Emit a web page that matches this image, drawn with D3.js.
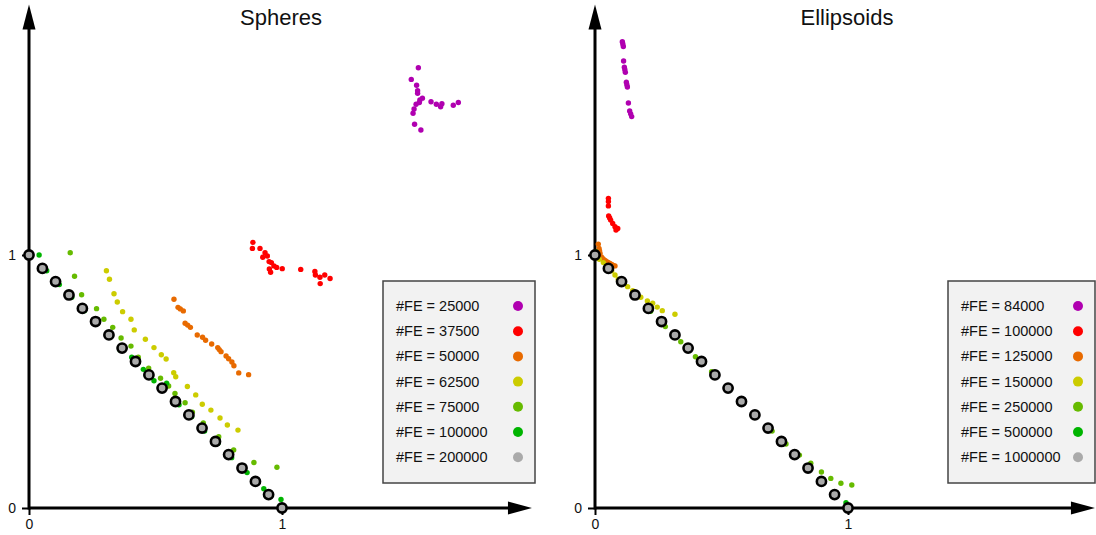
<!DOCTYPE html>
<html>
<head>
<meta charset="utf-8">
<script src="https://cdn.jsdelivr.net/npm/d3@7"></script>
<style>
  body { margin: 0; background: #fff; }
  text { font-family: "Liberation Sans", Arial, sans-serif; fill: #111; }
</style>
</head>
<body>
<div id="chart"></div>
<script>

var width = 1096,
    height = 535;

// series colours (shared by both panels, in legend order)
var colors = ["#b000b0", "#ff0000", "#e86a00", "#cccc00", "#66bb00", "#00b400", "#aaaaaa"];

// Spheres
var sphereLabels = ["25000", "37500", "50000", "62500", "75000", "100000", "200000"];

var sphere25000 = [[1.539,1.740],[1.511,1.694],[1.532,1.671],[1.536,1.649],[1.536,1.639],[1.555,1.620],
  [1.545,1.613],[1.543,1.603],[1.530,1.596],[1.522,1.577],[1.518,1.560],[1.524,1.517],[1.549,1.494],
  [1.589,1.606],[1.610,1.596],[1.627,1.586],[1.632,1.598],[1.677,1.592],[1.697,1.603]];
var sphere37500 = [[0.885,1.050],[0.883,1.026],[0.913,1.026],[0.933,1.009],[0.942,0.996],[0.924,0.991],
  [0.949,0.974],[0.958,0.970],[0.968,0.957],[0.979,0.951],[0.950,0.945],[0.955,0.932],[1.001,0.946],
  [1.074,0.943],[1.130,0.935],[1.132,0.921],[1.150,0.912],[1.169,0.921],[1.190,0.907],[1.151,0.887]];
var sphere50000 = [[0.573,0.825],[0.589,0.793],[0.598,0.787],[0.610,0.779],[0.617,0.730],[0.627,0.723],
  [0.638,0.714],[0.665,0.684],[0.686,0.675],[0.698,0.663],[0.722,0.648],[0.746,0.634],[0.752,0.626],
  [0.759,0.618],[0.779,0.601],[0.789,0.590],[0.802,0.577],[0.810,0.562],[0.829,0.534],[0.868,0.527]];
var sphere62500 = [[0.306,0.938],[0.318,0.904],[0.336,0.847],[0.349,0.814],[0.370,0.776],[0.403,0.746],
  [0.416,0.704],[0.460,0.667],[0.494,0.634],[0.523,0.606],[0.542,0.589],[0.572,0.535],[0.580,0.519],
  [0.626,0.480],[0.659,0.447],[0.685,0.410],[0.719,0.387],[0.755,0.356],[0.784,0.328],[0.826,0.308]];
var sphere75000 = [[0.163,1.009],[0.180,0.916],[0.208,0.843],[0.267,0.788],[0.296,0.746],[0.331,0.714],
  [0.364,0.672],[0.403,0.640],[0.432,0.596],[0.473,0.553],[0.520,0.513],[0.552,0.482],[0.577,0.453],
  [0.617,0.416],[0.646,0.379],[0.689,0.336],[0.750,0.282],[0.809,0.229],[0.889,0.180],[0.980,0.161]];
var sphere100000 = [[0.040,1.000],[0.070,0.938],[0.120,0.883],[0.169,0.833],[0.219,0.780],[0.267,0.728],
  [0.320,0.680],[0.360,0.625],[0.406,0.596],[0.452,0.548],[0.494,0.503],[0.544,0.493],[0.593,0.408],
  [0.643,0.361],[0.694,0.304],[0.747,0.256],[0.801,0.199],[0.862,0.140],[0.928,0.076],[0.996,0.034]];
var sphere200000 = [[0,1],[0.053,0.947],[0.105,0.895],[0.158,0.842],[0.211,0.789],[0.263,0.737],
  [0.316,0.684],[0.368,0.632],[0.421,0.579],[0.474,0.526],[0.526,0.474],[0.579,0.421],[0.632,0.368],
  [0.684,0.316],[0.737,0.263],[0.789,0.211],[0.842,0.158],[0.895,0.105],[0.947,0.053],[1,0]];

// Ellipsoids
var ellipLabels = ["84000", "100000", "125000", "150000", "250000", "500000", "1000000"];

var ellip84000 = [[0.108,1.843],[0.110,1.834],[0.112,1.824],[0.113,1.767],[0.116,1.742],[0.118,1.732],
  [0.120,1.722],[0.124,1.683],[0.126,1.673],[0.128,1.664],[0.132,1.601],[0.137,1.569],[0.141,1.558],
  [0.145,1.547]];
var ellip100000 = [[0.053,1.224],[0.053,1.211],[0.053,1.194],[0.054,1.154],[0.058,1.146],[0.062,1.138],
  [0.070,1.125],[0.079,1.112],[0.083,1.099],[0.090,1.105]];
var ellip125000 = [[0.013,1.043],[0.016,1.026],[0.018,1.016],[0.020,1.006],[0.026,0.991],[0.031,0.985],
  [0.036,0.980],[0.041,0.977],[0.046,0.974],[0.052,0.971],[0.059,0.967],[0.066,0.963],[0.072,0.959],
  [0.079,0.957]];
var ellip150000 = [[0.004,1.004],[0.017,0.983],[0.033,0.970],[0.049,0.954],[0.066,0.938],[0.079,0.921],
  [0.092,0.904],[0.112,0.888],[0.129,0.875],[0.149,0.859],[0.165,0.845],[0.181,0.833],[0.207,0.818],
  [0.228,0.809],[0.246,0.794],[0.266,0.780],[0.316,0.766]];
var ellip250000 = [[0.004,1.013],[0.112,0.888],[0.165,0.842],[0.220,0.778],[0.278,0.717],[0.339,0.657],
  [0.397,0.598],[0.461,0.539],[0.573,0.424],[0.639,0.361],[0.700,0.304],[0.755,0.253],[0.808,0.209],
  [0.853,0.177],[0.895,0.142],[0.932,0.117],[0.972,0.098],[1.015,0.091]];
var ellip500000 = [[0.004,1.003],[0.057,0.940],[0.108,0.890],[0.163,0.836],[0.218,0.779],[0.267,0.732],
  [0.318,0.680],[0.425,0.575],[0.479,0.522],[0.528,0.470],[0.584,0.416],[0.638,0.363],[0.689,0.311],
  [0.742,0.258],[0.795,0.205],[0.848,0.152],[0.902,0.098],[0.992,0.021]];
var ellip1000000 = sphere200000;

var svg = d3.select("#chart").append("svg")
    .attr("width", width)
    .attr("height", height);

function drawPanel(opt) {
  var unit = 253;
  var x = d3.scaleLinear().domain([0, 1]).range([opt.ox, opt.ox + unit]);
  var y = d3.scaleLinear().domain([0, 1]).range([opt.oy, opt.oy - unit]);
  var g = svg.append("g");

  // title
  g.append("text")
      .attr("x", opt.ox + 252)
      .attr("y", 25)
      .attr("text-anchor", "middle")
      .style("font-size", "22px")
      .text(opt.title);

  // ticks (outward only)
  var xAxis = g.append("g")
      .attr("transform", "translate(0," + y(0) + ")")
      .call(d3.axisBottom(x).tickValues([0, 1]).tickSize(7).tickPadding(4).tickFormat(d3.format("d")));
  var yAxis = g.append("g")
      .attr("transform", "translate(" + x(0) + ",0)")
      .call(d3.axisLeft(y).tickValues([0, 1]).tickSize(7).tickPadding(6).tickFormat(d3.format("d")));
  [xAxis, yAxis].forEach(function(a) {
    a.attr("font-size", 14).attr("font-family", "'Liberation Sans', Arial, sans-serif");
    a.select(".domain").remove();
    a.selectAll(".tick line").attr("stroke", "#000").attr("stroke-width", 2);
    a.selectAll(".tick text").attr("fill", "#111");
  });

  // axes with arrow heads
  g.append("line")
      .attr("x1", x(0)).attr("y1", y(0))
      .attr("x2", x(opt.xmax) - 20).attr("y2", y(0))
      .attr("stroke", "#000").attr("stroke-width", 3);
  g.append("path")
      .attr("d", "M" + x(opt.xmax) + "," + y(0) + "l-24,-6.5v13z")
      .attr("fill", "#000");
  g.append("line")
      .attr("x1", x(0)).attr("y1", y(0) + 1.5)
      .attr("x2", x(0)).attr("y2", y(opt.ymax) + 20)
      .attr("stroke", "#000").attr("stroke-width", 3);
  g.append("path")
      .attr("d", "M" + x(0) + "," + y(opt.ymax) + "l-6.5,25h13z")
      .attr("fill", "#000");

  // points
  opt.series.forEach(function(s, i) {
    var last = i === opt.series.length - 1;
    g.selectAll(".p" + i)
        .data(s)
      .enter().append("circle")
        .attr("class", "p" + i)
        .attr("cx", function(d) { return x(d[0]); })
        .attr("cy", function(d) { return y(d[1]); })
        .attr("r", last ? 4.6 : 2.7)
        .attr("fill", colors[i])
        .attr("stroke", last ? "#000" : "none")
        .attr("stroke-width", last ? 2.6 : 0);
  });

  // legend
  var lg = g.append("g").attr("transform", "translate(" + opt.lx + ",281)");
  lg.append("rect")
      .attr("x", 0).attr("y", 0)
      .attr("width", opt.lw).attr("height", 202)
      .attr("fill", "#f2f2f2").attr("stroke", "#444").attr("stroke-width", 1.5);
  opt.labels.forEach(function(l, i) {
    lg.append("text")
        .attr("x", 13)
        .attr("y", 30 + i * 25.2)
        .style("font-size", "14.5px")
        .text("#FE = " + l);
    lg.append("circle")
        .attr("cx", opt.lw - 17)
        .attr("cy", 25 + i * 25.2)
        .attr("r", 5)
        .attr("fill", colors[i]);
  });
}

drawPanel({
  title: "Spheres", ox: 29, oy: 508, xmax: 1.988, ymax: 1.99,
  lx: 383, lw: 152, labels: sphereLabels,
  series: [sphere25000, sphere37500, sphere50000, sphere62500, sphere75000, sphere100000, sphere200000]
});

drawPanel({
  title: "Ellipsoids", ox: 595, oy: 508, xmax: 1.976, ymax: 1.99,
  lx: 948, lw: 147, labels: ellipLabels,
  series: [ellip84000, ellip100000, ellip125000, ellip150000, ellip250000, ellip500000, ellip1000000]
});

</script>
</body>
</html>
